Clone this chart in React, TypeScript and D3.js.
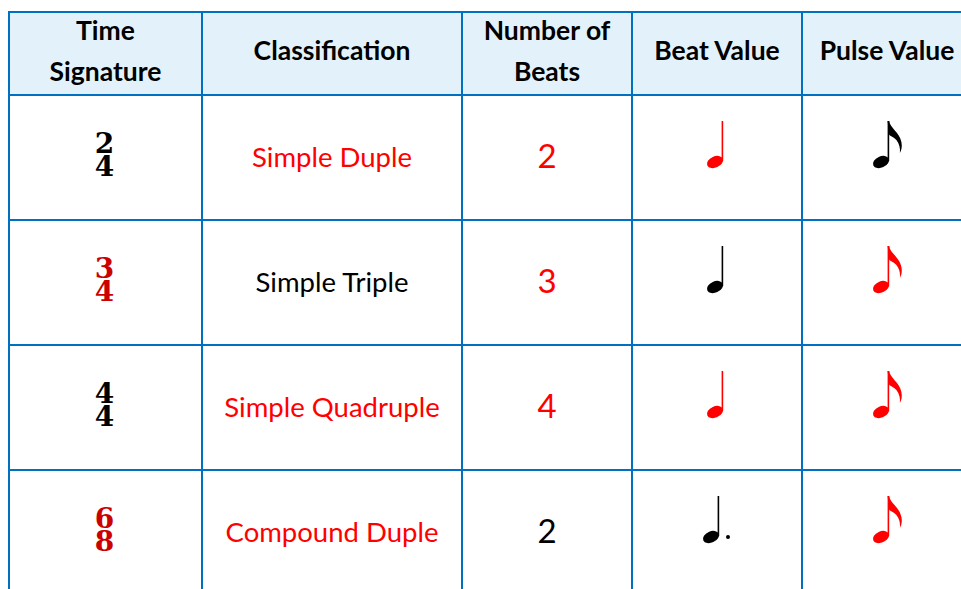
import { useEffect, useRef } from "react";
import * as d3 from "d3";

// table content, row by row
const headers = [["Time", "Signature"], ["Classification"], ["Number of", "Beats"], ["Beat Value"], ["Pulse Value"]];
const sigTop = ["2", "3", "4", "6"];
const sigBottom = ["4", "4", "4", "8"];
const sigRed = [false, true, false, true];
const classification = ["Simple Duple", "Simple Triple", "Simple Quadruple", "Compound Duple"];
const classRed = [true, false, true, true];
const beats = ["2", "3", "4", "2"];
const beatsRed = [true, true, true, false];
const beatNote = ["quarter", "quarter", "quarter", "dotted"];
const beatRed = [true, false, true, false];
const pulseNote = ["eighth", "eighth", "eighth", "eighth"];
const pulseRed = [false, true, true, true];

const colWidths = [193, 260, 170, 170, 170];
const headerH = 83;
const rowH = 125;
const left = 9;
const top = 12;

const BLUE = "#0070C0";
const RED = "#FF0000";
const DARKRED = "#CC0000";
const FONT = "Lato, 'Open Sans', sans-serif";

function App() {
  const ref = useRef<SVGSVGElement>(null);

  useEffect(() => {
    const svg = d3.select(ref.current);
    svg.selectAll("*").remove();

    const colEdges = [left, ...Array.from(d3.cumsum(colWidths)).map((w) => left + w)];
    const colMid = (i: number) => (colEdges[i] + colEdges[i + 1]) / 2;
    const rowY = d3.scaleLinear().domain([0, 1]).range([top + headerH, top + headerH + rowH]);
    const rowMid = (i: number) => rowY(i + 0.5);
    const nRows = classification.length;

    // header background
    svg.append("rect")
      .attr("x", left).attr("y", top)
      .attr("width", colEdges[colEdges.length - 1] - left).attr("height", headerH)
      .attr("fill", "#E3F2FA");

    // header labels
    headers.forEach((lines, i) => {
      const t = svg.append("text")
        .attr("text-anchor", "middle")
        .attr("font-family", FONT).attr("font-weight", 700).attr("font-size", 26.5)
        .attr("fill", "#000");
      const ys = lines.length === 2 ? [40, 81] : [60];
      lines.forEach((l, k) => t.append("tspan").attr("x", colMid(i)).attr("y", ys[k]).text(l));
    });

    const body = svg.append("g");

    // time signatures: one text, two stacked tspans
    sigTop.forEach((d, i) => {
      const t = body.append("text")
        .attr("text-anchor", "middle")
        .attr("font-family", "'DejaVu Serif', serif").attr("font-weight", 700).attr("font-size", 28)
        .attr("fill", sigRed[i] ? DARKRED : "#000");
      t.append("tspan").attr("x", colMid(0) - 1).attr("y", rowMid(i) - 4.5).text(d);
      t.append("tspan").attr("x", colMid(0) - 1).attr("y", rowMid(i) + 18.5).text(sigBottom[i]);
    });

    // classification
    body.selectAll("text.cls").data(classification).join("text")
      .attr("class", "cls")
      .attr("x", colMid(1)).attr("y", (_, i) => rowMid(i) + 9)
      .attr("text-anchor", "middle")
      .attr("font-family", FONT).attr("font-size", 27.5)
      .attr("fill", (_, i) => (classRed[i] ? RED : "#000"))
      .text((d) => d);

    // number of beats
    body.selectAll("text.beats").data(beats).join("text")
      .attr("class", "beats")
      .attr("x", colMid(2)).attr("y", (_, i) => rowMid(i) + 10)
      .attr("text-anchor", "middle")
      .attr("font-family", FONT).attr("font-size", 33)
      .attr("fill", (_, i) => (beatsRed[i] ? RED : "#000"))
      .text((d) => d);

    // note glyphs, origin at the note head centre
    const drawNote = (g: d3.Selection<SVGGElement, unknown, null, undefined>, kind: string, color: string) => {
      g.append("ellipse")
        .attr("rx", 8.4).attr("ry", 5.6)
        .attr("transform", "rotate(-24)")
        .attr("fill", color);
      const sx = 7.4;
      g.append("line")
        .attr("x1", sx).attr("x2", sx).attr("y1", -1).attr("y2", -41)
        .attr("stroke", color).attr("stroke-width", 1.6);
      if (kind === "eighth") {
        const t = -41;
        g.append("path")
          .attr("d",
            `M${sx - 0.8},${t} L${sx + 0.8},${t} C${sx + 1.5},${t + 7} ${sx + 11},${t + 11} ${sx + 13},${t + 21} ` +
            `C${sx + 14},${t + 26} ${sx + 13},${t + 29} ${sx + 11.5},${t + 32} ` +
            `C${sx + 12},${t + 27} ${sx + 11},${t + 23} ${sx + 8},${t + 19} ` +
            `C${sx + 5},${t + 16} ${sx + 2},${t + 15} ${sx + 0.8},${t + 14} Z`)
          .attr("fill", color);
      }
      if (kind === "dotted") {
        g.append("circle").attr("cx", 17).attr("cy", 0).attr("r", 2).attr("fill", color);
      }
    };

    beatNote.forEach((k, i) => {
      const dx = k === "dotted" ? -6 : -2;
      const g = body.append("g").attr("transform", `translate(${colMid(3) + dx},${rowMid(i) + 4.5})`);
      drawNote(g, k, beatRed[i] ? RED : "#000");
    });
    pulseNote.forEach((k, i) => {
      const g = body.append("g").attr("transform", `translate(${colMid(4) - 6},${rowMid(i) + 4.5})`);
      drawNote(g, k, pulseRed[i] ? RED : "#000");
    });

    // grid lines
    const bottom = rowY(nRows);
    const grid = svg.append("g").attr("stroke", BLUE).attr("stroke-width", 2);
    grid.selectAll("line.v").data(colEdges).join("line")
      .attr("class", "v")
      .attr("x1", (d) => d).attr("x2", (d) => d)
      .attr("y1", top - 1).attr("y2", bottom);
    const hEdges = [top, ...d3.range(nRows + 1).map((i) => rowY(i))];
    grid.selectAll("line.h").data(hEdges).join("line")
      .attr("class", "h")
      .attr("x1", left - 1).attr("x2", colEdges[colEdges.length - 1])
      .attr("y1", (d) => d).attr("y2", (d) => d);
  }, []);

  return (
    <svg
      ref={ref}
      width={961}
      height={589}
      style={{ position: "absolute", left: 0, top: 0, display: "block", background: "#fff" }}
    />
  );
}

export default App;
